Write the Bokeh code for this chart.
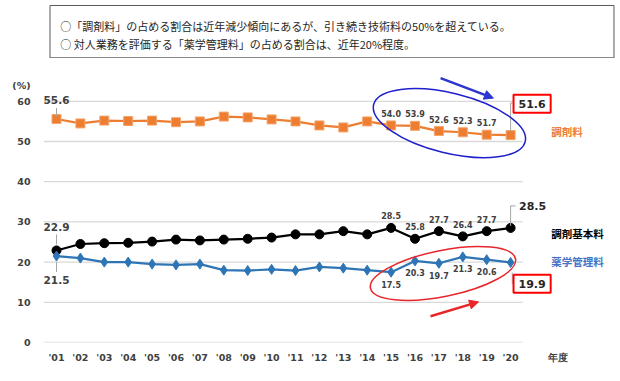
from bokeh.plotting import figure
from bokeh.models import (ColumnDataSource, Range1d, FixedTicker, Label, Arrow, NormalHead)
from bokeh.layouts import column
from bokeh.core.properties import value
from bokeh.embed import file_html
from bokeh.resources import INLINE

# ---------------- data ----------------
years = ["'01", "'02", "'03", "'04", "'05", "'06", "'07", "'08", "'09", "'10",
         "'11", "'12", "'13", "'14", "'15", "'16", "'17", "'18", "'19", "'20"]
chozai = [55.6, 54.5, 55.2, 55.1, 55.2, 54.8, 55.0, 56.2, 56.0, 55.5,
          55.0, 54.0, 53.5, 55.0, 54.0, 53.9, 52.6, 52.3, 51.7, 51.6]
kihon = [22.9, 24.5, 24.7, 24.8, 25.1, 25.6, 25.4, 25.6, 25.8, 26.1,
         26.9, 26.9, 27.7, 26.9, 28.5, 25.8, 27.7, 26.4, 27.7, 28.5]
yakugaku = [21.5, 21.0, 20.0, 20.0, 19.5, 19.3, 19.5, 18.0, 17.9, 18.2,
            17.9, 18.8, 18.5, 18.0, 17.5, 20.3, 19.7, 21.3, 20.6, 19.9]
series_names = ["調剤料", "調剤基本料", "薬学管理料"]
y_ticks = [0, 10, 20, 30, 40, 50, 60]
labelled = [14, 15, 16, 17, 18]      # years with small value labels
notes = ["○「調剤料」の占める割合は近年減少傾向にあるが、引き続き技術料の50%を超えている。",
         "○ 対人業務を評価する「薬学管理料」の占める割合は、近年20%程度。"]
unit_label = "(%)"
x_title = "年度"

ORANGE = "#ED7D31"
BLACK = "#000000"
BLUE = "#2E75B6"
LABEL_BLUE = "#4472C4"
TXT = "#404040"
NUMFONT = "DejaVu Sans"
JPFONT = "Noto Sans CJK JP"

# ---------------- top note box ----------------
top = figure(width=620, height=58, x_range=Range1d(0, 620), y_range=Range1d(0, 58),
             output_backend="svg", toolbar_location=None, min_border=0)
top.axis.visible = False
top.grid.visible = False
top.outline_line_color = None
top.quad(left=[7], right=[613], bottom=[0.7], top=[53], fill_color="white",
         line_color="#595959", line_width=1)
top.text(x=[18, 18], y=[33, 15], text=notes, text_font=value(JPFONT),
         text_font_size="11px", text_color="#262626", text_baseline="middle")

# ---------------- chart ----------------
xs = list(range(len(years)))
x0 = -0.544
px_x = 23.9
p = figure(width=620, height=323, output_backend="svg", toolbar_location=None,
           x_range=Range1d(x0, x0 + 577 / px_x), y_range=Range1d(0, 70.65),
           min_border_left=43, min_border_right=0, min_border_top=0, min_border_bottom=39)
p.outline_line_color = None
p.grid.visible = False

# gridlines limited to the plotting area
p.segment(x0=[x0] * len(y_ticks), x1=[len(years) - 0.5] * len(y_ticks), y0=y_ticks, y1=y_ticks,
          line_color="#D9D9D9", line_width=1.3)

for ax in (p.xaxis[0], p.yaxis[0]):
    ax.axis_line_color = None
    ax.major_tick_line_color = None
    ax.minor_tick_line_color = None
    ax.major_tick_out = 0
    ax.major_tick_in = 0
    ax.minor_tick_out = 0
    ax.major_label_text_font = NUMFONT
    ax.major_label_text_font_style = "bold"
    ax.major_label_text_font_size = "9.5px"
    ax.major_label_text_color = TXT
title_x = len(years) + 1           # position of the x-axis title slot
p.xaxis.ticker = FixedTicker(ticks=xs + [title_x])
overrides = {i: y for i, y in enumerate(years)}
overrides[title_x] = x_title
p.xaxis.major_label_overrides = overrides
p.xaxis.major_label_standoff = 9
unit_pos = 64
p.yaxis.ticker = FixedTicker(ticks=y_ticks + [unit_pos])
p.yaxis.major_label_overrides = {unit_pos: unit_label}
p.yaxis.major_label_standoff = 13

# series
p.line(xs, chozai, line_color=ORANGE, line_width=2.2)
p.scatter(xs, chozai, marker="square", size=9, fill_color=ORANGE, line_color="#F4A46C", line_width=1)
p.line(xs, kihon, line_color=BLACK, line_width=2.2)
p.scatter(xs, kihon, marker="circle", size=9, fill_color=BLACK, line_color=BLACK)
p.line(xs, yakugaku, line_color=BLUE, line_width=2.2)
p.scatter(xs, yakugaku, marker="diamond", size=10, fill_color=BLUE, line_color=BLUE)

# leader lines (gray)
ppy = 284 / 70.65
def dy(px):
    return px / ppy
last = len(years) - 1
leader_x = [[0, 0], [0, 0], [0, 0],
            [last, last, last + 2 / px_x], [last, last, last + 5 / px_x], [last + 0.07, last + 0.07, last + 5 / px_x]]
leader_y = [[chozai[0] + dy(3), chozai[0] + dy(11)],
            [kihon[0] + dy(6), kihon[0] + dy(16)],
            [yakugaku[0] - dy(6), yakugaku[0] - dy(16)],
            [chozai[-1] + dy(4), chozai[-1] + dy(32), chozai[-1] + dy(32)],
            [kihon[-1] + dy(2), kihon[-1] + dy(22), kihon[-1] + dy(22)],
            [yakugaku[-1] - dy(10), yakugaku[-1] - dy(21), yakugaku[-1] - dy(21)]]
p.multi_line(leader_x, leader_y, line_color="#A6A6A6", line_width=1)

# small value labels
def small_labels(vals, off):
    src = ColumnDataSource(dict(x=labelled, y=[vals[i] for i in labelled],
                                t=[f"{vals[i]:.1f}" for i in labelled]))
    p.text(x="x", y="y", text="t", source=src, y_offset=off, text_align="center",
           text_baseline="middle", text_font=value(NUMFONT), text_font_style="bold",
           text_font_size="8px", text_color=TXT)
small_labels(chozai, -12)
small_labels(kihon, -12)
small_labels(yakugaku, 12)

# first-year labels
for v, off in ((chozai[0], -19), (kihon[0], -23.5), (yakugaku[0], 24)):
    p.text(x=[0], y=[v], text=[f"{v:.1f}"], y_offset=off, text_align="center",
           text_baseline="middle", text_font=value(NUMFONT), text_font_style="bold",
           text_font_size="10.5px", text_color=TXT)

# last-year labels
p.add_layout(Label(x=last, y=chozai[-1], text=f"{chozai[-1]:.1f}", x_offset=21.5, y_offset=31.4,
                   text_align="center", text_baseline="middle", text_font=NUMFONT,
                   text_font_style="bold", text_font_size="11px", text_color="#262626",
                   border_line_color="#FF0000", border_line_width=2, padding=5,
                   background_fill_color="white"))
p.add_layout(Label(x=last, y=kihon[-1], text=f"{kihon[-1]:.1f}", x_offset=22, y_offset=22,
                   text_align="center", text_baseline="middle", text_font=NUMFONT,
                   text_font_style="bold", text_font_size="11px", text_color="#262626"))
p.add_layout(Label(x=last, y=yakugaku[-1], text=f"{yakugaku[-1]:.1f}", x_offset=21.5, y_offset=-21.2,
                   text_align="center", text_baseline="middle", text_font=NUMFONT,
                   text_font_style="bold", text_font_size="11px", text_color="#262626",
                   border_line_color="#FF0000", border_line_width=2, padding=5,
                   background_fill_color="white"))

# series names at the right
for name, v, col, off in ((series_names[0], chozai[-1], ORANGE, -4),
                          (series_names[1], kihon[-1], "#000000", 5.5),
                          (series_names[2], yakugaku[-1], LABEL_BLUE, -1.5)):
    p.text(x=[last + 1.7], y=[v], text=[name], y_offset=off, text_align="left",
           text_baseline="middle", text_font=value(JPFONT), text_font_style="bold",
           text_font_size="10.5px", text_color=col)

# highlight ellipses
p.ellipse(x=[(labelled[0] + last) / 2 - 0.06], y=[sum(chozai[14:]) / 6 + 1.9],
          width=156, height=60, width_units="screen", height_units="screen",
          angle=-0.24, fill_color=None, line_color="#1F1FCC", line_width=1.5)
p.ellipse(x=[(labelled[0] + labelled[-1]) / 2 + 0.17], y=[sum(yakugaku[14:19]) / 5 - 2.7],
          width=148, height=46, width_units="screen", height_units="screen",
          angle=0.2, fill_color=None, line_color="#E8262A", line_width=1.5)

# arrows
p.add_layout(Arrow(x_start=16.07, y_start=65.75, x_end=18.28, y_end=60.8,
                   line_color="#2B35D0", line_width=2.5,
                   end=NormalHead(size=9, fill_color="#2B35D0", line_color="#2B35D0")))
p.add_layout(Arrow(x_start=15.65, y_start=6.54, x_end=17.66, y_end=10.1,
                   line_color="#E8262A", line_width=2.5,
                   end=NormalHead(size=9, fill_color="#E8262A", line_color="#E8262A")))

layout = column(top, p, spacing=0)
open("out.html", "w").write(file_html(layout, INLINE))
